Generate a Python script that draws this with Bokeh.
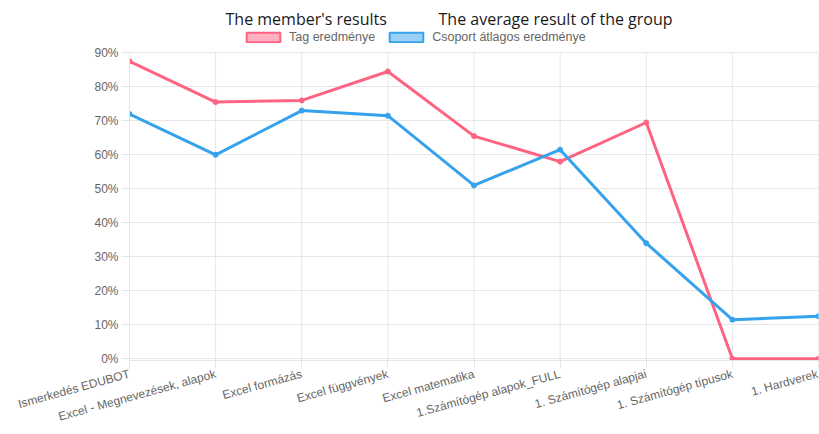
from bokeh.plotting import figure
from bokeh.models import Range1d, FixedTicker, Legend, LegendItem, Label
from bokeh.embed import file_html
from bokeh.resources import INLINE

categories = ["Ismerkedés EDUBOT", "Excel - Megnevezések, alapok", "Excel formázás",
              "Excel függvények", "Excel matematika", "1.Számítógép alapok_FULL",
              "1. Számítógép alapjai", "1. Számítógép típusok", "1. Hardverek"]
member = [87.5, 75.5, 76, 84.5, 65.5, 58, 69.5, 0, 0]
group = [72, 60, 73, 71.5, 51, 61.5, 34, 11.5, 12.5]
y_ticks = [0, 10, 20, 30, 40, 50, 60, 70, 80, 90]
series_names = ["Tag eredménye", "Csoport átlagos eredménye"]
titles = ["The member's results", "The average result of the group"]

RED = "#ff6384"
BLUE = "#36a2eb"
GRID = "#e6e6e6"
FONT = "Liberation Sans"

xs = list(range(len(categories)))
y_top = y_ticks[-1]

p = figure(width=819, height=434, output_backend="svg", toolbar_location=None,
           x_range=Range1d(0, len(categories) - 1), y_range=Range1d(-0.5, 105.38),
           min_border_left=129, min_border_right=1, min_border_top=0, min_border_bottom=74)
p.outline_line_color = None

p.xaxis.ticker = FixedTicker(ticks=xs)
p.xaxis.major_label_overrides = {i: c for i, c in enumerate(categories)}
p.xaxis.major_label_orientation = 0.27
p.yaxis.ticker = FixedTicker(ticks=y_ticks)
p.yaxis.major_label_overrides = {v: f"{v}%" for v in y_ticks}
p.yaxis.bounds = (-0.5, y_top)

for ax in (p.xaxis[0], p.yaxis[0]):
    ax.axis_line_color = GRID
    ax.major_tick_line_color = GRID
    ax.major_tick_out = 8
    ax.major_tick_in = 0
    ax.minor_tick_line_color = None
    ax.major_label_text_color = "#666666"
    ax.major_label_text_font = FONT
    ax.major_label_text_font_size = "12px"
p.xaxis.major_label_standoff = 5
p.yaxis.major_label_standoff = 3

p.xgrid.grid_line_color = None
p.ygrid.ticker = FixedTicker(ticks=y_ticks)
p.ygrid.grid_line_color = GRID

# vertical grid lines only up to the top tick
p.segment(x0=xs, y0=[-0.5] * len(xs), x1=xs, y1=[y_top] * len(xs), line_color=GRID, line_width=1)

p.line(xs, member, line_color=RED, line_width=3)
p.scatter(xs, member, size=5, color=RED)
p.line(xs, group, line_color=BLUE, line_width=3)
p.scatter(xs, group, size=5, color=BLUE)

b1 = p.rect([-100], [-100], 1, 1, fill_color=RED, fill_alpha=0.5, line_color=RED, line_width=2)
b2 = p.rect([-100], [-100], 1, 1, fill_color=BLUE, fill_alpha=0.5, line_color=BLUE, line_width=2)
legend = Legend(items=[LegendItem(label=series_names[0], renderers=[b1]),
                       LegendItem(label=series_names[1], renderers=[b2])],
                orientation="horizontal", location=(113, 316),
                glyph_width=42, glyph_height=12, label_standoff=5, spacing=10,
                label_text_font=FONT, label_text_font_size="12.5px", label_text_color="#666666",
                border_line_color=None, background_fill_alpha=0,
                padding=2, margin=0)
p.add_layout(legend, "center")

p.add_layout(Label(x=1.115, y=99.8, text=titles[0], text_font="Open Sans",
                   text_font_size="16px", text_color="#1a1a1a", text_baseline="alphabetic"))
p.add_layout(Label(x=3.588, y=99.8, text=titles[1], text_font="Open Sans",
                   text_font_size="16px", text_color="#1a1a1a", text_baseline="alphabetic"))

open("out.html", "w").write(file_html(p, INLINE))
